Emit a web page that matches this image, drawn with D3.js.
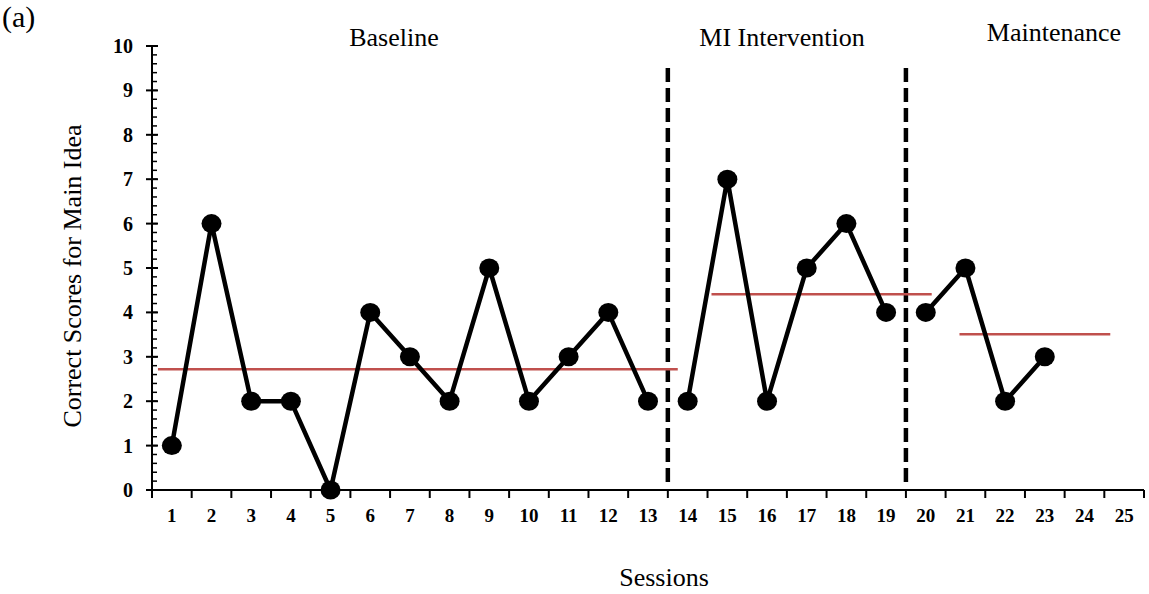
<!DOCTYPE html>
<html>
<head>
<meta charset="utf-8">
<script src="https://cdn.jsdelivr.net/npm/d3@7"></script>
<style>
body{margin:0;background:#fff}
svg{display:block}
</style>
</head>
<body>
<div id="chart"></div>
<script>
// sessions and scores
const sessions = d3.range(1, 26)
const baseline = [1, 6, 2, 2, 0, 4, 3, 2, 5, 2, 3, 4, 2]        // sessions 1-13
const intervention = [2, 7, 2, 5, 6, 4]                          // sessions 14-19
const maintenance = [4, 5, 2, 3]                                 // sessions 20-23
const phaseStart = [1, 14, 20]
const phaseNames = ["Baseline", "MI Intervention", "Maintenance"]
const phaseMeans = [2.72, 4.41, 3.51]
const yTicks = d3.range(0, 11)

const W = 1149, H = 594

const svg = d3.select("#chart").append("svg")
	.attr("width", W).attr("height", H)
	.style("font-family", "'Liberation Serif','Times New Roman',serif")

// band scale for sessions, linear for scores
const x = d3.scaleBand().domain(sessions).range([152, 1144]).padding(0)
const y = d3.scaleLinear().domain([0, 10]).range([490, 46])
const cx = d => x(d) + x.bandwidth() / 2

// y axis: line, major ticks, minor ticks every 0.2
const yg = svg.append("g").attr("transform", `translate(${x.range()[0]},0)`)
yg.append("line").attr("y1", y(0)).attr("y2", y(10)).attr("stroke", "#000").attr("stroke-width", 2)
yg.selectAll(".minor").data(d3.range(0, 50).map(d => d / 5)).join("line")
	.attr("x1", 0).attr("x2", 5)
	.attr("y1", d => y(d)).attr("y2", d => y(d))
	.attr("stroke", "#000").attr("stroke-width", 1.5)
yg.selectAll(".major").data(yTicks).join("line")
	.attr("x1", -6).attr("x2", 6)
	.attr("y1", d => y(d)).attr("y2", d => y(d))
	.attr("stroke", "#000").attr("stroke-width", 2)
yg.selectAll("text").data(yTicks).join("text")
	.attr("x", -19).attr("y", d => y(d)).attr("dy", "0.35em")
	.attr("text-anchor", "end")
	.style("font-size", "20px").style("font-weight", "bold")
	.text(d => d)

// x axis: ticks at session boundaries, labels centred
const xg = svg.append("g").attr("transform", `translate(0,${y(0)})`)
xg.append("line").attr("x1", x.range()[0]).attr("x2", x.range()[1]).attr("stroke", "#000").attr("stroke-width", 2)
xg.selectAll(".tick").data(d3.range(0, 26)).join("line")
	.attr("x1", d => x.range()[0] + d * x.step()).attr("x2", d => x.range()[0] + d * x.step())
	.attr("y1", 0).attr("y2", 8)
	.attr("stroke", "#000").attr("stroke-width", 2)
xg.selectAll("text").data(sessions).join("text")
	.attr("x", d => cx(d)).attr("y", 32)
	.attr("text-anchor", "middle")
	.style("font-size", "19px").style("font-weight", "bold")
	.text(d => d)

// phase change lines
const bounds = phaseStart.slice(1).map(s => x(s))
svg.selectAll(".phase").data(bounds).join("line")
	.attr("x1", d => d).attr("x2", d => d)
	.attr("y1", 68).attr("y2", y(0) - 4)
	.attr("stroke", "#000").attr("stroke-width", 4.5)
	.attr("stroke-dasharray", "14,6")

// phase mean lines
const meanSpans = [[0.15, 13.25], [14.1, 19.65], [20.35, 24.15]]
svg.selectAll(".mean").data(phaseMeans).join("line")
	.attr("x1", (d, i) => x.range()[0] + meanSpans[i][0] * x.step())
	.attr("x2", (d, i) => x.range()[0] + meanSpans[i][1] * x.step())
	.attr("y1", d => y(d)).attr("y2", d => y(d))
	.attr("stroke", "#c0504d").attr("stroke-width", 2.5)

// data lines and dots
const phases = [baseline, intervention, maintenance].map((vals, i) =>
	vals.map((v, j) => [phaseStart[i] + j, v]))
const line = d3.line().x(d => cx(d[0])).y(d => y(d[1]))
svg.selectAll(".series").data(phases).join("path")
	.attr("d", line).attr("fill", "none")
	.attr("stroke", "#000").attr("stroke-width", 4.5)
	.attr("stroke-linejoin", "round")
svg.selectAll(".dot").data(phases.flat()).join("ellipse")
	.attr("cx", d => cx(d[0])).attr("cy", d => y(d[1]))
	.attr("rx", 10).attr("ry", 9.5)
	.attr("fill", "#000")

// titles
const phaseLabelX = [394, 782, 1054]
const phaseLabelY = [46, 46, 41]
svg.selectAll(".pname").data(phaseNames).join("text")
	.attr("x", (d, i) => phaseLabelX[i]).attr("y", (d, i) => phaseLabelY[i])
	.attr("text-anchor", "middle").style("font-size", "26px")
	.text(d => d)

svg.append("text").attr("x", 2).attr("y", 27).style("font-size", "30px").text("(a)")
svg.append("text").attr("x", 664).attr("y", 586).attr("text-anchor", "middle")
	.style("font-size", "26px").text("Sessions")
svg.append("text").attr("transform", "translate(81,276) rotate(-90)")
	.attr("text-anchor", "middle").style("font-size", "26px")
	.text("Correct Scores for Main Idea")
</script>
</body>
</html>
